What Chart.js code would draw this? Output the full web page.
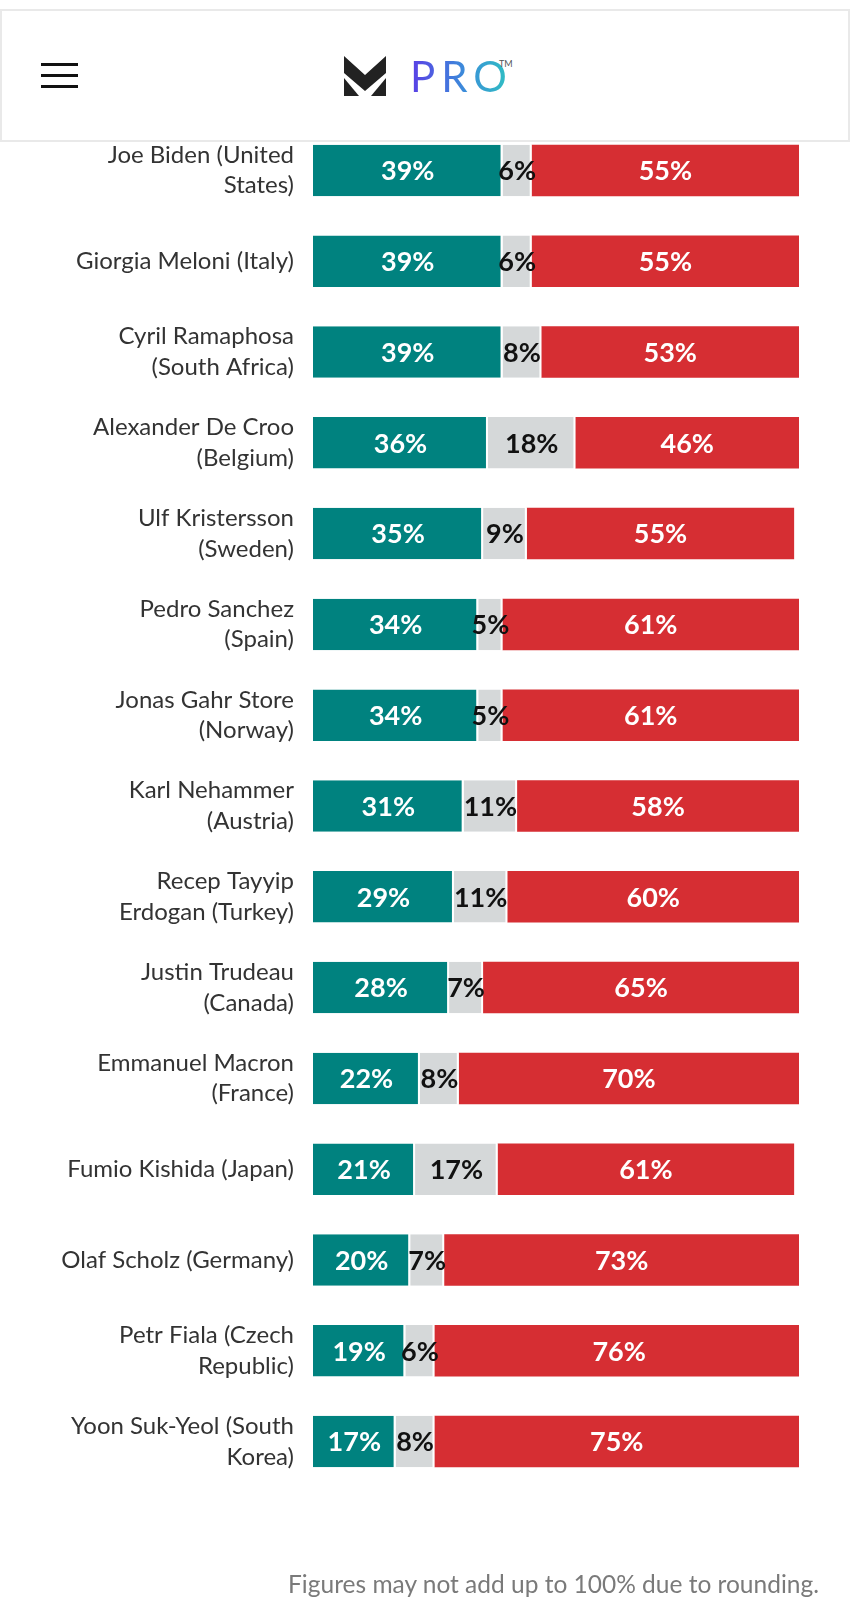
<!DOCTYPE html>
<html>
<head>
<meta charset="utf-8">
<script src="https://cdn.jsdelivr.net/npm/chart.js@4"></script>
<style>
  body { margin: 0; background: #fff; font-family: Lato, sans-serif; }
  #wrap { position: relative; width: 850px; height: 1610px; overflow: hidden; }
  #chartBox { position: absolute; left: 0; top: 0; width: 850px; height: 1610px; }
  .header {
    position: absolute; left: 0; top: 9px; width: 846px; height: 129px;
    border: 2px solid #e9e9e9; background: #fff; z-index: 2;
  }
  .burger { position: absolute; left: 39px; top: 52px; width: 37px; }
  .burger span { display: block; height: 3px; background: #111; margin-bottom: 8px; }
  .logo { position: absolute; left: 342px; top: 45px; }
  .pro {
    position: absolute; left: 408px; top: 40px; font-size: 42px; font-weight: 400;
    letter-spacing: 6px;
    background: linear-gradient(90deg, #5a3ee6, #3a8fd9 55%, #2ec4c0);
    -webkit-background-clip: text; background-clip: text; color: transparent;
  }
  .tm { position: absolute; left: 497px; top: 47px; font-size: 9px; color: #555; }
  .note {
    position: absolute; right: 31px; top: 1569px; font-size: 24.5px; color: #7a7a7a;
  }
</style>
</head>
<body>
<div id="wrap">
  <div class="header">
    <div class="burger"><span></span><span></span><span></span></div>
    <svg class="logo" width="42" height="40" viewBox="0 0 42 40">
      <polygon points="0,0 21,19 42,0 42,17 21,35 0,17" fill="#222"/>
      <polygon points="0,22 15,40 0,40" fill="#222"/>
      <polygon points="42,22 27,40 42,40" fill="#222"/>
    </svg>
    <div class="pro">PRO</div>
    <div class="tm">TM</div>
  </div>
  <div id="chartBox"><canvas id="myChart"></canvas></div>
  <div class="note">Figures may not add up to 100% due to rounding.</div>
</div>
<script>
const leaders = [
  ["Joe Biden (United", "States)"],
  "Giorgia Meloni (Italy)",
  ["Cyril Ramaphosa", "(South Africa)"],
  ["Alexander De Croo", "(Belgium)"],
  ["Ulf Kristersson", "(Sweden)"],
  ["Pedro Sanchez", "(Spain)"],
  ["Jonas Gahr Store", "(Norway)"],
  ["Karl Nehammer", "(Austria)"],
  ["Recep Tayyip", "Erdogan (Turkey)"],
  ["Justin Trudeau", "(Canada)"],
  ["Emmanuel Macron", "(France)"],
  "Fumio Kishida (Japan)",
  "Olaf Scholz (Germany)",
  ["Petr Fiala (Czech", "Republic)"],
  ["Yoon Suk-Yeol (South", "Korea)"]
];
const approve    = [39, 39, 39, 36, 35, 34, 34, 31, 29, 28, 22, 21, 20, 19, 17];
const dontKnow   = [6, 6, 8, 18, 9, 5, 5, 11, 11, 7, 8, 17, 7, 6, 8];
const disapprove = [55, 55, 53, 46, 55, 61, 61, 58, 60, 65, 70, 61, 73, 76, 75];

// labels inside the bars (no datalabels plugin offline)
const barLabels = {
  id: 'barLabels',
  afterDatasetsDraw(chart) {
    const ctx = chart.ctx;
    ctx.save();
    ctx.font = 'bold 27px Lato';
    ctx.textAlign = 'center';
    ctx.textBaseline = 'middle';
    chart.data.datasets.forEach((ds, i) => {
      const meta = chart.getDatasetMeta(i);
      ctx.fillStyle = ds.labelColor;
      meta.data.forEach((bar, j) => {
        const cx = (bar.x + bar.base) / 2;
        ctx.fillText(ds.data[j] + '%', cx, bar.y + 1);
      });
    });
    ctx.restore();
  }
};

const ctx = document.getElementById('myChart');
new Chart(ctx, {
  type: 'bar',
  data: {
    labels: leaders,
    datasets: [
      { label: 'Approve', data: approve, backgroundColor: '#00827f', labelColor: '#fff',
        borderColor: '#fff', borderWidth: { right: 2, left: 0, top: 0, bottom: 0 }, borderSkipped: false },
      { label: "Don't know", data: dontKnow, backgroundColor: '#d5d8d9', labelColor: '#111',
        borderColor: '#fff', borderWidth: { right: 2, left: 0, top: 0, bottom: 0 }, borderSkipped: false },
      { label: 'Disapprove', data: disapprove, backgroundColor: '#d62e33', labelColor: '#fff' }
    ]
  },
  options: {
    indexAxis: 'y',
    responsive: true,
    maintainAspectRatio: false,
    animation: false,
    datasets: { bar: { barPercentage: 1, categoryPercentage: 0.567 } },
    layout: { padding: { top: 125, bottom: 123, right: 51, left: 0 } },
    plugins: { legend: { display: false }, tooltip: { enabled: false } },
    scales: {
      x: { stacked: true, min: 0, max: 100, display: false },
      y: {
        stacked: true,
        grid: { display: false, drawTicks: false },
        border: { display: false },
        ticks: { color: '#333', padding: 19, font: { family: 'Lato', size: 24, lineHeight: 1.27 } },
        afterFit(scale) { scale.width = 313; }
      }
    }
  },
  plugins: [barLabels]
});
</script>
</body>
</html>
